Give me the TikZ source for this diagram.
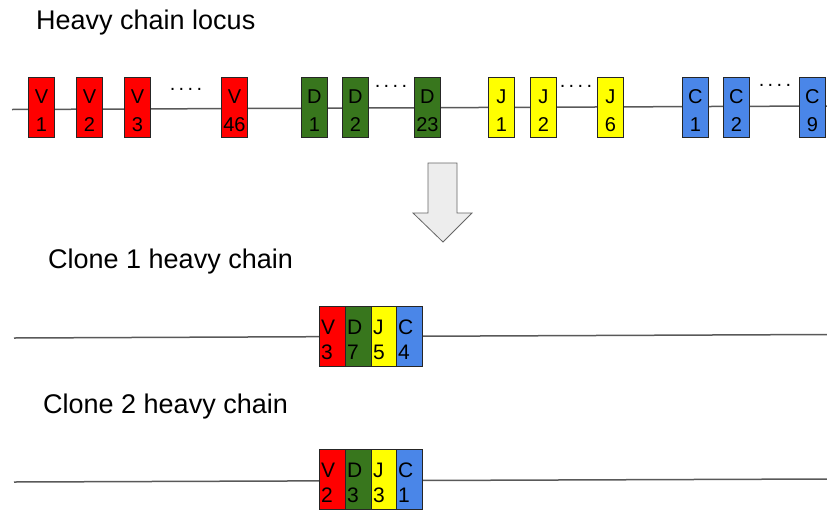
\documentclass[tikz,border=0pt]{standalone}
\usepackage{fontspec}
\setmainfont{Liberation Sans}
\definecolor{segV}{HTML}{FF0000}
\definecolor{segD}{HTML}{38761D}
\definecolor{segJ}{HTML}{FFFF00}
\definecolor{segC}{HTML}{4A86E8}
\definecolor{linegray}{HTML}{595959}
\tikzset{
  seg/.style={draw=black!85, line width=0.9pt, minimum width=26pt, minimum height=60pt, inner sep=0pt, anchor=north west},
  segtxt/.style={font=\fontsize{20}{20}\selectfont, inner sep=0pt, anchor=base},
  clonetxt/.style={font=\fontsize{21}{21}\selectfont, inner sep=0pt, anchor=base west},
  title/.style={font=\fontsize{27}{27}\selectfont, inner sep=0pt, anchor=base west},
  dots/.style={font=\fontsize{20}{20}\selectfont, inner sep=0pt, anchor=base},
  chrom/.style={draw=linegray, line width=1.5pt},
}
\newcommand{\dotrow}{.\hspace{3.4pt}.\hspace{3.4pt}.\hspace{3.4pt}.}
% \locseg{name}{x}{ytop}{color}{letter}{number}
\newcommand{\locseg}[6]{%
  \node[seg, fill=#4] (#1) at (#2,#3) {};
  \node[segtxt] (#1l) at ([yshift=-26pt]#1.north) {#5};
  \node[segtxt] (#1n) at ([yshift=-54pt]#1.north) {#6};
}
\newcommand{\cloneseg}[6]{%
  \node[seg, fill=#4] (#1) at (#2,#3) {};
  \node[clonetxt] (#1l) at ([xshift=2pt,yshift=-28pt]#1.north west) {#5};
  \node[clonetxt] (#1n) at ([xshift=2pt,yshift=-53pt]#1.north west) {#6};
}
\begin{document}
\begin{tikzpicture}[x=1pt,y=-1pt]
\useasboundingbox (0,0) rectangle (827,509);
% title
\node[title] (t1) at (36,29) {Heavy chain locus};
% locus line
\coordinate (la) at (12,109.5);
\coordinate (lb) at (827,106);
\draw[chrom] (la) -- (lb);
\locseg{v1}{28}{77}{segV}{V}{1}
\locseg{v2}{76}{77}{segV}{V}{2}
\locseg{v3}{124}{77}{segV}{V}{3}
\node[dots] (dt1) at (186,90) {\dotrow};
\locseg{v46}{221}{77}{segV}{V}{46}
\locseg{d1}{301}{77}{segD}{D}{1}
\locseg{d2}{342}{77}{segD}{D}{2}
\node[dots] (dt2) at (391,87) {\dotrow};
\locseg{d23}{414}{77}{segD}{D}{23}
\locseg{j1}{488}{77}{segJ}{J}{1}
\locseg{j2}{530}{77}{segJ}{J}{2}
\node[dots] (dt3) at (576,87) {\dotrow};
\locseg{j6}{597}{77}{segJ}{J}{6}
\locseg{c1}{682}{77}{segC}{C}{1}
\locseg{c2}{723}{77}{segC}{C}{2}
\node[dots] (dt4) at (775,86) {\dotrow};
\locseg{c9}{799}{77}{segC}{C}{9}
% arrow
\draw[draw=black!60, fill=black!7, line width=0.8pt]
  (428,163) -- (457,163) -- (457,213) -- (472,213) -- (443,242) -- (413,213) -- (428,213) -- cycle;
% clone 1
\node[title] (t2) at (48,268) {Clone 1 heavy chain};
\coordinate (a1) at (14,338);
\coordinate (b1) at (827,334.5);
\draw[chrom] (a1) -- (b1);
\cloneseg{av}{319}{306}{segV}{V}{3}
\cloneseg{ad}{345}{306}{segD}{D}{7}
\cloneseg{aj}{371}{306}{segJ}{J}{5}
\cloneseg{ac}{396}{306}{segC}{C}{4}
% clone 2
\node[title] (t3) at (43,413) {Clone 2 heavy chain};
\coordinate (a2) at (14,482);
\coordinate (b2) at (827,479);
\draw[chrom] (a2) -- (b2);
\cloneseg{bv}{319}{449}{segV}{V}{2}
\cloneseg{bd}{345}{449}{segD}{D}{3}
\cloneseg{bj}{371}{449}{segJ}{J}{3}
\cloneseg{bc}{396}{449}{segC}{C}{1}
\end{tikzpicture}
\end{document}
